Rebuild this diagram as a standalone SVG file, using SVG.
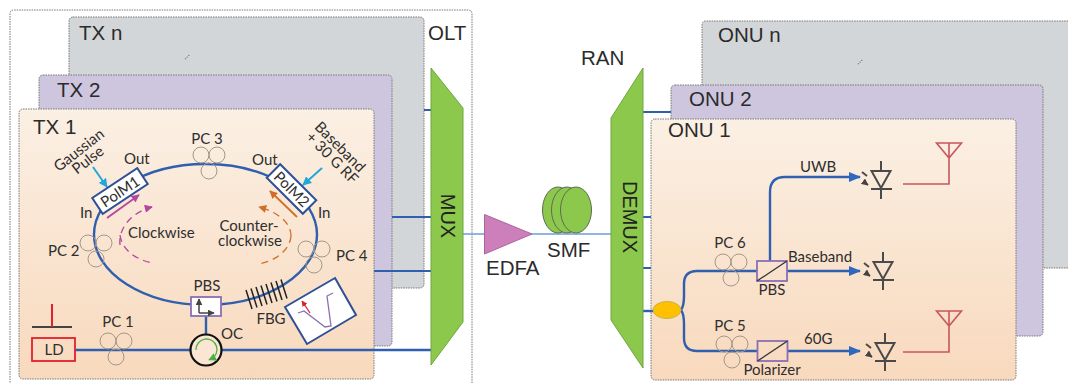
<svg xmlns="http://www.w3.org/2000/svg" width="1068" height="383" viewBox="0 0 1068 383">
<style>
.box{stroke:#777;stroke-width:1;stroke-dasharray:1.5 1}
.big{font-family:"Liberation Sans",Arial,sans-serif;font-size:20.5px;fill:#2b2b2b}
.lb{font-family:Lato,"Noto Sans",sans-serif;font-size:15px;fill:#2e2e2e}
.mid{text-anchor:middle}
.fiber{fill:none;stroke:#2f5fae;stroke-width:2.4}
.thin{fill:none;stroke:#2f5fae;stroke-width:1.8}
.pc circle{fill:none;stroke:#a3978a;stroke-width:1}
.dev{fill:#fff;stroke:#2f5096;stroke-width:2}
.pur{fill:#fff;stroke:#8a6fb5;stroke-width:1.8}
.diode path{fill:none;stroke:#4a4a4a;stroke-width:2}
.ant path{fill:none;stroke:#c9565c;stroke-width:1.6}
.green{fill:#8cc84b;stroke:#6fa63f;stroke-width:1}
.smf{fill:#8cc84b;stroke:#5f6b55;stroke-width:1}
.vert{font-family:"Liberation Sans",Arial,sans-serif;font-size:20px;fill:#222;text-anchor:middle;dominant-baseline:central}
</style>
<defs>
<linearGradient id="peach" x1="0" y1="0" x2="0" y2="1"><stop offset="0" stop-color="#fbf0e4"/><stop offset="1" stop-color="#f8d9bd"/></linearGradient>
<marker id="blue" viewBox="0 0 12 10" refX="11" refY="5" markerWidth="12" markerHeight="10" markerUnits="userSpaceOnUse" orient="auto"><path d="M0,0 L12,5 L0,10 Z" fill="#2f68c0"/></marker>
<marker id="cyan" viewBox="0 0 10 10" refX="9" refY="5" markerWidth="9" markerHeight="9" markerUnits="userSpaceOnUse" orient="auto"><path d="M0,0 L10,5 L0,10 Z" fill="#22a7dc"/></marker>
<marker id="mag" viewBox="0 0 10 10" refX="9" refY="5" markerWidth="9" markerHeight="8" markerUnits="userSpaceOnUse" orient="auto"><path d="M0,0 L10,5 L0,10 Z" fill="#b5459f"/></marker>
<marker id="ora" viewBox="0 0 10 10" refX="9" refY="5" markerWidth="9" markerHeight="8" markerUnits="userSpaceOnUse" orient="auto"><path d="M0,0 L10,5 L0,10 Z" fill="#cf6f2b"/></marker>
<marker id="red" viewBox="0 0 10 10" refX="9" refY="5" markerWidth="6" markerHeight="6" markerUnits="userSpaceOnUse" orient="auto"><path d="M0,0 L10,5 L0,10 Z" fill="#d8232f"/></marker>
<marker id="dark" viewBox="0 0 10 10" refX="9" refY="5" markerWidth="7" markerHeight="7" markerUnits="userSpaceOnUse" orient="auto"><path d="M0,0 L10,5 L0,10 Z" fill="#444"/></marker>
<marker id="grn" viewBox="0 0 10 10" refX="6" refY="5" markerWidth="8" markerHeight="8" markerUnits="userSpaceOnUse" orient="auto"><path d="M0,0 L10,5 L0,10 Z" fill="#4cb04a"/></marker>
<g id="pcshape" class="pc"><circle cx="-8" cy="-6" r="8"/><circle cx="8" cy="-6" r="8"/><circle cx="0" cy="10" r="8"/></g>
<g id="diodeshape" class="diode"><path d="M-9.500,-9 H9.500 L0,8 Z"/><path d="M-10,9 H11 M0,-19 V-9 M0,9 V19"/><path d="M-19,-8 L-14,-4 M-17,2 L-13,5" stroke-width="1.500" marker-end="url(#dark)"/></g>
<g id="antshape" class="ant"><path d="M-12.500,0 H12.500 L0,15 Z M0,0 V41 H-46"/></g>
</defs>
<rect width="1068" height="383" fill="#fff"/>

<g id="OLT"><path class="box" d="M10,390 V14 Q10,10 14,10 H468 Q472,10 472,14 V390" fill="#fff"/><text class="big" x="428" y="40">OLT</text></g>
<g id="TXn"><rect class="box" x="69" y="17" width="355" height="271" rx="4" fill="#d3d6d9"/><text class="big" x="79" y="40">TX n</text><text x="186" y="58" font-family="Liberation Sans,sans-serif" font-size="9" fill="#333" text-anchor="middle" transform="rotate(-45 186 56)">...</text></g>
<g id="TX2"><rect class="box" x="39" y="75" width="353" height="271" rx="4" fill="#cdc6de"/><text class="big" x="57" y="97">TX 2</text></g>
<g id="RAN"><text class="big" x="581" y="65">RAN</text></g>
<g id="ONUn"><path class="box" d="M702,268 V25 Q702,21 706,21 H1075 V268 Z" fill="#d3d6d9"/><text class="big" x="718" y="42">ONU n</text><text x="859" y="63" font-family="Liberation Sans,sans-serif" font-size="9" fill="#333" text-anchor="middle" transform="rotate(-45 859 61)">...</text></g>
<g id="ONU2"><rect class="box" x="671" y="85" width="372" height="251" rx="4" fill="#cdc6de"/><text class="big" x="689" y="106">ONU 2</text></g>

<g id="connectors-back">
<path class="thin" d="M424,110 H431 M392,217 H431 M374,271 H431 M643,112 H671 M643,217 H651 M643,268 H651"/>
</g>

<g id="TX1"><rect class="box" x="19" y="109" width="355" height="270" rx="4" fill="url(#peach)"/><text class="big" x="33" y="134">TX 1</text></g>
<g id="ONU1"><rect class="box" x="651" y="119" width="365" height="261" rx="4" fill="url(#peach)"/><text class="big" x="668" y="137">ONU 1</text></g>

<g id="connectors">
<ellipse class="fiber" cx="205.500" cy="234.500" rx="111.500" ry="70.500"/>
<path class="fiber" d="M75,350 H190 M206,316 V334 M222,350 H431"/>
<path d="M463,234 H611" fill="none" stroke="#6a9fd8" stroke-width="1.300"/>
<path class="fiber" d="M643,311 H653"/>
<path class="fiber" d="M681,310 Q684,306 684,296 V284 Q684,271 697,271 H757"/>
<path class="fiber" d="M681,310 Q684,314 684,324 V338 Q684,351 697,351 H757"/>
<path class="fiber" d="M787,271 H860" marker-end="url(#blue)"/>
<path class="fiber" d="M788,351 H860" marker-end="url(#blue)"/>
<path class="fiber" d="M770,261 V192 Q770,177 785,177 H860" marker-end="url(#blue)"/>
<path d="M93,167 L107,187" stroke="#22a7dc" stroke-width="2" marker-end="url(#cyan)"/>
<path d="M322,168 L303,185" stroke="#22a7dc" stroke-width="2" marker-end="url(#cyan)"/>
<path d="M107,218 L139,195" stroke="#b5459f" stroke-width="1.800" marker-end="url(#mag)"/>
<path d="M120,245 C118,228 132,212 152,207" fill="none" stroke="#b5459f" stroke-width="1.300" stroke-dasharray="7 5" marker-end="url(#mag)"/>
<path d="M120,235 C122,250 135,259 152,263" fill="none" stroke="#b5459f" stroke-width="1.300" stroke-dasharray="7 5"/>
<path d="M297,217 L270,191" stroke="#cf6f2b" stroke-width="1.800" marker-end="url(#ora)"/>
<path d="M291,236 C291,222 277,212 259,207" fill="none" stroke="#cf6f2b" stroke-width="1.300" stroke-dasharray="7 5" marker-end="url(#ora)"/>
<path d="M291,236 C290,250 276,261 258,264" fill="none" stroke="#cf6f2b" stroke-width="1.300" stroke-dasharray="7 5"/>
</g>

<g id="MUX"><polygon class="green" points="431,68 463,108 463,322 431,365"/><text class="vert" x="448" y="216" transform="rotate(90 448 216)">MUX</text></g>
<g id="DEMUX"><polygon class="green" points="643,68 611,118 611,320 643,368"/><text class="vert" x="630" y="217" transform="rotate(90 630 217)">DEMUX</text></g>
<g id="EDFA"><polygon points="484.500,214.500 532,234 484.500,254" fill="#cc7fbb" stroke="#a9659a" stroke-width="1"/><text class="big" x="486" y="275">EDFA</text></g>
<g id="SMF"><ellipse class="smf" cx="558" cy="210" rx="15.500" ry="23"/><ellipse class="smf" cx="567" cy="210" rx="15.500" ry="23"/><ellipse class="smf" cx="576" cy="210" rx="15.500" ry="23"/><text class="big" x="547" y="257">SMF</text></g>

<g id="LD"><path d="M32,327 H72" stroke="#444" stroke-width="2"/><path d="M52,304 V327" stroke="#e0202c" stroke-width="2"/><rect x="32" y="338" width="43" height="23" fill="none" stroke="#e0202c" stroke-width="1.800"/><text class="lb mid" x="54" y="355">LD</text></g>
<g id="PC1"><use href="#pcshape" x="116" y="347"/><text class="lb mid" x="118" y="327">PC 1</text></g>
<g id="PC2"><use href="#pcshape" x="96" y="249"/><text class="lb" x="48" y="256">PC 2</text></g>
<g id="PC3"><use href="#pcshape" x="209" y="161"/><text class="lb mid" x="207" y="144">PC 3</text></g>
<g id="PC4"><use href="#pcshape" x="314" y="255"/><text class="lb" x="336" y="261">PC 4</text></g>
<g id="PolM1"><rect class="dev" x="-27" y="-9.500" width="54" height="19" transform="translate(120 191) rotate(-33.500)"/><text class="lb mid" transform="translate(123 196) rotate(-33.500)">PolM1</text><text class="lb" x="124" y="164">Out</text><text class="lb" x="80" y="218">In</text><text class="lb mid" transform="translate(82 154) rotate(-38)">Gaussian</text><text class="lb mid" transform="translate(91 164) rotate(-38)">Pulse</text></g>
<g id="PolM2"><rect class="dev" x="-25.500" y="-9.500" width="51" height="19" transform="translate(291.500 189) rotate(45)"/><text class="lb mid" transform="translate(288 193) rotate(45)">PolM2</text><text class="lb" x="252" y="165">Out</text><text class="lb" x="318" y="218">In</text><text class="lb mid" transform="translate(336.500 150.500) rotate(45)">Baseband</text><text class="lb mid" transform="translate(328.500 161.500) rotate(45)">+ 30 G RF</text></g>
<g id="PBS1"><rect class="pur" x="191" y="297" width="30" height="19"/><path d="M199,313 H214" fill="none" stroke="#444" stroke-width="1.500" marker-end="url(#dark)"/><path d="M199,313 V299" fill="none" stroke="#444" stroke-width="1.500" marker-end="url(#dark)"/><text class="lb mid" x="207" y="291">PBS</text></g>
<g id="OC"><circle cx="206" cy="350" r="15.500" fill="#fbe6d4" stroke="#111" stroke-width="2.200"/><path d="M196,350 A10.500,10.500 0 1 1 211,359" fill="none" stroke="#4cb04a" stroke-width="1.300" marker-end="url(#grn)"/><text class="lb" x="221" y="339">OC</text></g>
<g id="FBG"><path d="M246,290 L252,309 M251,288.500 L257,307.500 M256,287 L262,306 M261,285.500 L267,304.500 M266,284 L272,303 M271,282.500 L277,301.500 M276,281 L282,300 M281,279.500 L287,298.500" stroke="#222" stroke-width="1.500"/><text class="lb mid" x="271" y="324">FBG</text></g>
<g id="FBGspectrum"><polygon class="dev" points="335,278 356,315 307,344 285,307"/><path d="M298,313 L304,311 L325,327 L331,326 L327,296 L333,293" fill="none" stroke="#8a6fb5" stroke-width="1.300"/><path d="M310,313 L302,301" stroke="#d8232f" stroke-width="1.300" marker-end="url(#red)"/></g>
<g id="labels-ring"><text class="lb" x="128" y="238">Clockwise</text><text class="lb mid" x="249" y="231">Counter-</text><text class="lb mid" x="250" y="246">clockwise</text></g>

<g id="splitter"><ellipse cx="667" cy="310" rx="14" ry="8.500" fill="#ffc000" stroke="#c9b24a" stroke-width="1"/></g>
<g id="PC6"><use href="#pcshape" x="731" y="268"/><text class="lb mid" x="730" y="248">PC 6</text></g>
<g id="PC5"><use href="#pcshape" x="732" y="350"/><text class="lb mid" x="730" y="331">PC 5</text></g>
<g id="PBS2"><rect class="pur" x="757" y="261" width="30" height="20" style="fill:none"/><path d="M757,281 L787,261" stroke="#333" stroke-width="1.300"/><text class="lb mid" x="772" y="295">PBS</text></g>
<g id="Polarizer"><rect class="pur" x="757.500" y="341" width="30" height="20" style="fill:none"/><path d="M757.500,361 L787.500,341" stroke="#333" stroke-width="1.300"/><text class="lb mid" x="772" y="375">Polarizer</text></g>
<g id="labels-onu"><text class="lb" x="800" y="172">UWB</text><text class="lb" x="788" y="262">Baseband</text><text class="lb" x="804" y="344">60G</text></g>
<g id="PD1"><use href="#diodeshape" x="881" y="180"/></g>
<g id="PD2"><use href="#diodeshape" x="883" y="271"/></g>
<g id="PD3"><use href="#diodeshape" x="885" y="352"/></g>
<g id="ANT1"><use href="#antshape" x="949" y="143"/></g>
<g id="ANT2"><use href="#antshape" x="949" y="311"/></g>
</svg>
